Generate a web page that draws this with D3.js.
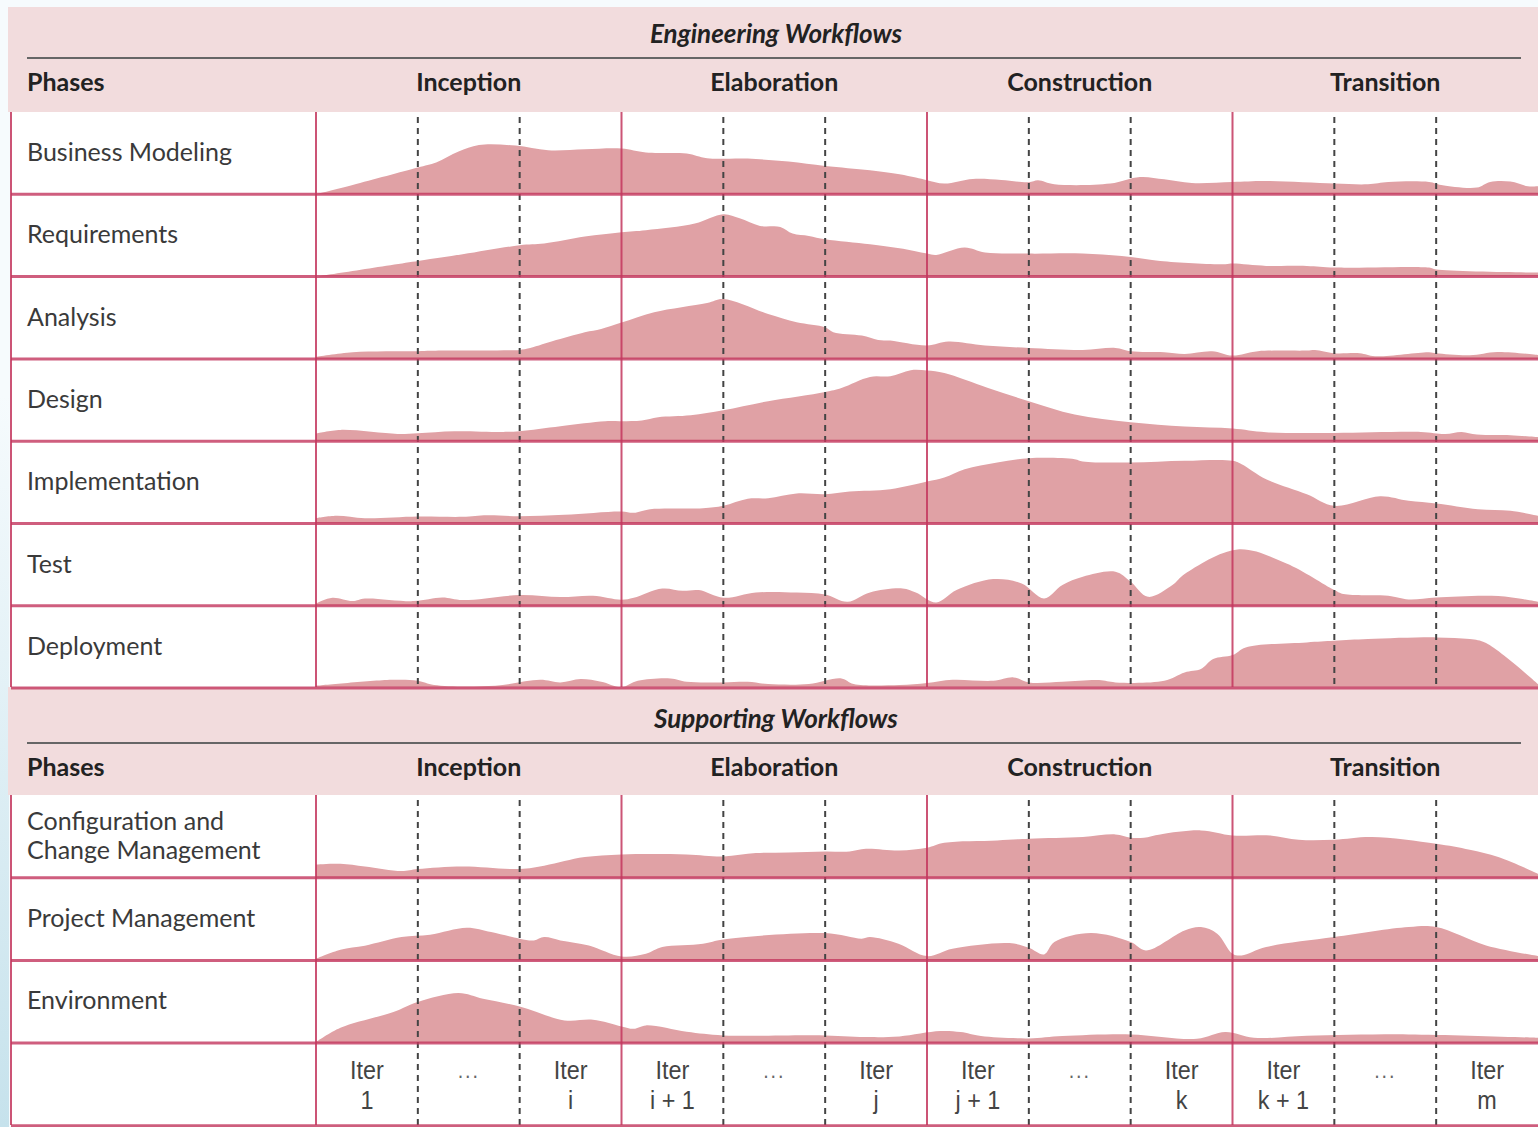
<!DOCTYPE html>
<html>
<head>
<meta charset="utf-8">
<script src="https://cdn.jsdelivr.net/npm/d3@7"></script>
<style>
  body { margin: 0; background: #f6fbfd; }
  svg { display: block; }
</style>
</head>
<body>
<script>
// phases and iterations
var phases = ["Inception", "Elaboration", "Construction", "Transition"];
var iterLabels = [["Iter", "1"], ["..."], ["Iter", "i"],
                  ["Iter", "i + 1"], ["..."], ["Iter", "j"],
                  ["Iter", "j + 1"], ["..."], ["Iter", "k"],
                  ["Iter", "k + 1"], ["..."], ["Iter", "m"]];

var engNames = ["Business Modeling", "Requirements", "Analysis", "Design",
                "Implementation", "Test", "Deployment"];
var supNames = [["Configuration and", "Change Management"], ["Project Management"], ["Environment"]];

// effort per workflow: [iteration position, effort]
var businessModeling = [[0,0],[0.36,9.3],[1,26.7],[1.18,31.7],[1.4,42.7],[1.6,49.3],[1.96,48.7],[2.28,44],[2.64,45],[3,45.7],[3.24,41.7],[3.64,40.7],[3.84,36],[4.24,35.7],[4.64,32.7],[5,28.3],[5.44,24],[5.73,20],[5.89,16.7],[6,14],[6.17,10.7],[6.45,15.3],[6.73,14.3],[7,12],[7.09,14],[7.25,10],[7.8,10.7],[8.09,17.3],[8.33,15],[8.6,11.3],[9,12.3],[9.33,13.3],[10,10.7],[10.33,10],[10.53,12.3],[10.93,12.3],[11.05,9.3],[11.4,6.7],[11.53,12.3],[11.73,12.7],[11.9,8],[12,8]];
var requirements = [[0,0],[1,15.7],[1.44,22.3],[2,31.3],[2.24,33],[2.64,40],[3,44.3],[3.24,46.3],[3.72,53],[4,62.3],[4.16,58.3],[4.36,50.7],[4.56,49.7],[4.68,43],[4.84,40.7],[5,37.3],[5.44,32.3],[5.73,28.3],[6,23],[6.09,21.7],[6.37,29],[6.57,24],[7,23],[7.53,23],[8,19.7],[8.29,15.7],[8.93,12.3],[9,13],[9.33,10.7],[9.73,10.7],[10,9],[10.93,9],[11,7],[12,4]];
var analysis = [[0,2],[0.36,6.7],[1,7.7],[1.24,8.3],[2,9],[2.08,10.3],[2.32,17.7],[2.64,26.7],[2.8,30],[3,36.3],[3.32,46.7],[3.84,56],[4,60],[4.44,45],[4.72,36.7],[5,31.7],[5.08,26.7],[5.36,23.3],[5.52,19],[5.64,18.3],[6,13.3],[6.21,17.3],[6.57,13.3],[7,11],[7.53,9],[7.85,11],[8,7.7],[8.33,6.7],[8.53,5],[8.8,7.7],[9,3.3],[9.25,7.7],[9.73,8.3],[9.81,9],[10,5.7],[10.25,5.7],[10.4,2.7],[10.93,6.7],[11,5.7],[11.33,3.7],[11.6,7],[12,4]];
var design = [[0,7.7],[0.24,11.3],[0.8,7.3],[1,8],[1.36,10],[1.84,9.3],[2,10],[2.4,15],[2.84,20],[3,20],[3.2,20.7],[3.36,24],[3.68,26],[4,31],[4.44,40],[5,49.3],[5.16,53.3],[5.44,64.3],[5.64,65],[5.84,71],[6,70.7],[6.17,68.3],[6.6,53.3],[7,40],[7.45,26.7],[8,19],[8.53,14.7],[9,12.7],[9.33,9],[10,8.3],[10.85,9.3],[11.09,7.3],[11.25,9.3],[11.4,6.7],[11.73,6],[12,4]];
var implementation = [[0,5.3],[0.2,7.7],[0.48,5.3],[1,7],[1.44,6.7],[1.68,8.3],[2,7.3],[2.44,8.7],[3,12],[3.12,10.7],[3.28,14.3],[3.8,15.3],[4,17.7],[4.24,24.7],[4.44,25.3],[4.72,30],[5,29.3],[5.24,32],[5.64,34.3],[6,42],[6.17,46],[6.37,54.3],[6.69,61],[7,65.3],[7.45,64.3],[7.53,62],[8,61],[8.53,62.7],[9,62.7],[9.09,59.3],[9.33,44.3],[9.73,29.3],[10,17.7],[10.45,27.3],[10.73,22.7],[11,20],[11.41,14.3],[11.73,12.7],[12,7.7]];
var test = [[0,2.3],[0.16,8],[0.36,4.7],[0.48,7.3],[0.96,4.7],[1.24,8.3],[1.44,5.7],[2,10.7],[2.4,8.7],[2.72,10],[3,6],[3.12,8],[3.4,17.3],[3.6,15],[3.76,15.7],[4,8],[4.32,13.3],[4.72,13.3],[5,11.3],[5.22,4],[5.44,13.3],[5.76,17.3],[5.89,13.3],[6.09,3.3],[6.29,15.7],[6.65,26.7],[6.93,22.3],[7.15,7.3],[7.33,20.7],[7.53,29],[7.85,34],[8,24],[8.17,9],[8.41,20.7],[8.53,31.7],[9.05,56.3],[9.53,42.3],[10,15.7],[10.09,11.7],[10.53,10],[10.73,6.3],[11,8.3],[11.61,9.7],[12,4]];
var deployment = [[0,2.3],[0.76,8.3],[1,7.3],[1.16,3],[1.76,2.3],[2.2,8.3],[2.4,5.7],[2.6,9],[2.8,6.3],[3,1],[3.16,7.3],[3.48,9.7],[3.64,6.3],[4,5.7],[4.24,6.3],[4.44,4],[4.84,4],[5.16,9.7],[5.28,4],[5.73,3],[6,5],[6.25,8.3],[6.65,7.3],[6.85,10.7],[7,5.7],[7.33,6.3],[7.69,8],[7.85,5.7],[8.33,7.3],[8.53,15.7],[8.69,19],[8.81,29],[9,33],[9.13,40.7],[9.73,45.7],[10,47.3],[10.33,49],[11,50.7],[11.33,49],[11.49,45],[12,4]];
var configChange = [[0,13.3],[0.24,14],[0.48,11.3],[0.84,6.7],[1,8.7],[1.44,11.3],[2,8.7],[2.24,12],[2.44,16.7],[2.64,20.7],[3,23.3],[3.64,23.3],[4,21.3],[4.32,24.7],[4.64,25.3],[5,26.3],[5.24,26.3],[5.4,29],[5.73,27.3],[6,30],[6.17,35],[6.69,37.3],[7,39],[7.53,40.7],[7.85,43.3],[8,40],[8.13,40],[8.29,43.3],[8.69,47.3],[9,42.3],[9.37,42.3],[9.65,38],[10,38],[10.37,40.7],[11,34],[11.33,28],[11.61,20.7],[12,4]];
var projectMgmt = [[0,1.7],[0.24,10.7],[0.48,14.7],[0.84,23.3],[1.12,25.7],[1.48,32.7],[1.72,28.3],[2,21.7],[2.14,20],[2.24,23.3],[2.4,20],[2.68,15],[3,4],[3.24,6.7],[3.4,13.3],[3.8,16.7],[4,21],[5,27.3],[5.36,21.7],[5.44,23.3],[5.72,16.7],[6,4.3],[6.25,11.7],[6.81,17.3],[7,12.7],[7.15,6],[7.25,18.3],[7.61,27.3],[8,18.3],[8.15,10],[8.53,30],[8.69,33.3],[8.85,26.7],[9,6.7],[9.09,5],[9.33,13.3],[10,23.3],[10.73,33.3],[11,33.3],[11.49,15],[12,4.3]];
var environment = [[0,1],[0.24,15.3],[0.76,31],[1,41],[1.4,50],[1.64,44.3],[2,36.7],[2.44,22.7],[2.72,23.3],[3,16.7],[3.12,14.3],[3.24,17.7],[3.64,11.3],[4,7.7],[5,7.7],[5.44,6],[5.73,6.7],[6.13,12],[6.33,11],[6.53,7],[7,4.7],[7.33,7],[8,8.7],[8.65,4.3],[8.93,11],[9.21,5.3],[9.73,7.3],[10.73,8.7],[12,5.3]];

var engSeries = [businessModeling, requirements, analysis, design, implementation, test, deployment];
var supSeries = [configChange, projectMgmt, environment];

var width = 1538, height = 1127;
var left = 11, labelRight = 316;
var pink = "#f2dcdd", fillCol = "#e0a1a5", lineCol = "#c4375e";

var svg = d3.select("body").append("svg")
  .attr("width", width)
  .attr("height", height);

// faint blue strip on the left edge
var grad = svg.append("defs").append("linearGradient")
  .attr("id", "edge").attr("x1", 0).attr("x2", 0).attr("y1", 0).attr("y2", 1);
grad.append("stop").attr("offset", "0.35").attr("stop-color", "#f6fbfd");
grad.append("stop").attr("offset", "1").attr("stop-color", "#c6e2ec");
svg.append("rect").attr("x", 0).attr("y", 0).attr("width", 9).attr("height", height)
  .attr("fill", "url(#edge)");

var x = d3.scaleLinear().domain([0, 12]).range([labelRight, width]);

// table body
svg.append("rect").attr("x", left).attr("y", 112).attr("width", width - left).attr("height", 1013)
  .attr("fill", "#fff");

function header(top, h, off, title) {
  svg.append("rect").attr("x", 8).attr("y", top).attr("width", width - 8).attr("height", h)
    .attr("fill", pink);
  svg.append("text")
    .attr("x", 776).attr("y", top + off + 36)
    .attr("text-anchor", "middle")
    .style("font-family", "Lato, 'Open Sans', sans-serif")
    .style("font-weight", "bold").style("font-style", "italic")
    .style("font-size", "26px").style("fill", "#222")
    .text(title);
  svg.append("line")
    .attr("x1", 27).attr("x2", 1521).attr("y1", top + off + 51).attr("y2", top + off + 51)
    .attr("stroke", "#666").attr("stroke-width", 2);
  svg.append("text")
    .attr("x", 27).attr("y", top + off + 84)
    .style("font-family", "Lato, 'Open Sans', sans-serif")
    .style("font-weight", "bold").style("font-size", "25px").style("fill", "#222")
    .text("Phases");
  svg.selectAll(null).data(phases).enter().append("text")
    .attr("x", function(d, i) { return x(i * 3 + 1.5); })
    .attr("y", top + off + 84)
    .attr("text-anchor", "middle")
    .style("font-family", "Lato, 'Open Sans', sans-serif")
    .style("font-weight", "bold").style("font-size", "25px").style("fill", "#222")
    .text(function(d) { return d; });
}

function rows(names, series, top, pitch) {
  var area = d3.area().curve(d3.curveCatmullRom.alpha(0.5));
  series.forEach(function(s, i) {
    var base = top + pitch * (i + 1);
    var y = d3.scaleLinear().domain([0, 80]).range([base, base - 80]);
    area.x(function(d) { return x(d[0]); }).y0(base).y1(function(d) { return y(d[1]); });
    svg.append("path").datum(s).attr("d", area).attr("fill", fillCol);

    var name = names[i];
    if (typeof name === "string") name = [name];
    var t = svg.append("text")
      .attr("x", 27)
      .attr("y", top + pitch * i + (name.length > 1 ? 35 : 49))
      .style("font-family", "Lato, 'Open Sans', sans-serif")
      .style("font-size", "25px").style("fill", "#3a3a3a");
    name.forEach(function(n, k) {
      t.append("tspan").attr("x", 27).attr("dy", k ? 29 : 0).text(n);
    });
  });
}

rows(engNames, engSeries, 112, 82.3);
header(687, 108, 5, "Supporting Workflows");
header(7, 105, 0, "Engineering Workflows");
rows(supNames, supSeries, 795, 82.7);

// iteration dashes
var dashIdx = [1, 2, 4, 5, 7, 8, 10, 11];
[[117, 687], [800, 1125]].forEach(function(seg) {
  svg.selectAll(null).data(dashIdx).enter().append("line")
    .attr("x1", function(d) { return x(d); }).attr("x2", function(d) { return x(d); })
    .attr("y1", seg[0]).attr("y2", seg[1])
    .attr("stroke", "#444").attr("stroke-width", 2)
    .attr("stroke-dasharray", "6,5");
});

// horizontal grid lines
var hLines = [];
for (var i = 1; i <= 7; i++) hLines.push(112 + 82.3 * i);
for (var j = 1; j <= 4; j++) hLines.push(795 + 82.7 * j);
svg.selectAll(null).data(hLines).enter().append("line")
  .attr("x1", left).attr("x2", width)
  .attr("y1", function(d) { return d; }).attr("y2", function(d) { return d; })
  .attr("stroke", lineCol).attr("stroke-width", 3).attr("opacity", 0.8);

// vertical phase lines
var vIdx = [0, 3, 6, 9];
[[112, 687], [795, 1125]].forEach(function(seg) {
  svg.selectAll(null).data(vIdx).enter().append("line")
    .attr("x1", function(d) { return x(d); }).attr("x2", function(d) { return x(d); })
    .attr("y1", seg[0]).attr("y2", seg[1])
    .attr("stroke", lineCol).attr("stroke-width", 2).attr("opacity", 0.85);
  svg.append("line")
    .attr("x1", left).attr("x2", left).attr("y1", seg[0]).attr("y2", seg[1])
    .attr("stroke", lineCol).attr("stroke-width", 2).attr("opacity", 0.85);
});

// iteration labels on the bottom row
var iterG = svg.selectAll(null).data(iterLabels).enter().append("g")
  .attr("transform", function(d, i) { return "translate(" + x(i + 0.5) + ",0) scale(0.9,1)"; });
iterG.each(function(d) {
  var g = d3.select(this);
  if (d.length === 1) {
    g.append("text").attr("x", 0).attr("y", 1078).attr("text-anchor", "middle")
      .style("font-family", "'Liberation Sans', Arial, sans-serif")
      .style("font-size", "22px").style("letter-spacing", "2px").style("fill", "#666")
      .text(d[0]);
  } else {
    d.forEach(function(s, k) {
      g.append("text").attr("x", 0).attr("y", 1079 + k * 30).attr("text-anchor", "middle")
        .style("font-family", "'Liberation Sans', Arial, sans-serif")
        .style("font-size", "26px").style("fill", "#444")
        .text(s);
    });
  }
});
</script>
</body>
</html>
